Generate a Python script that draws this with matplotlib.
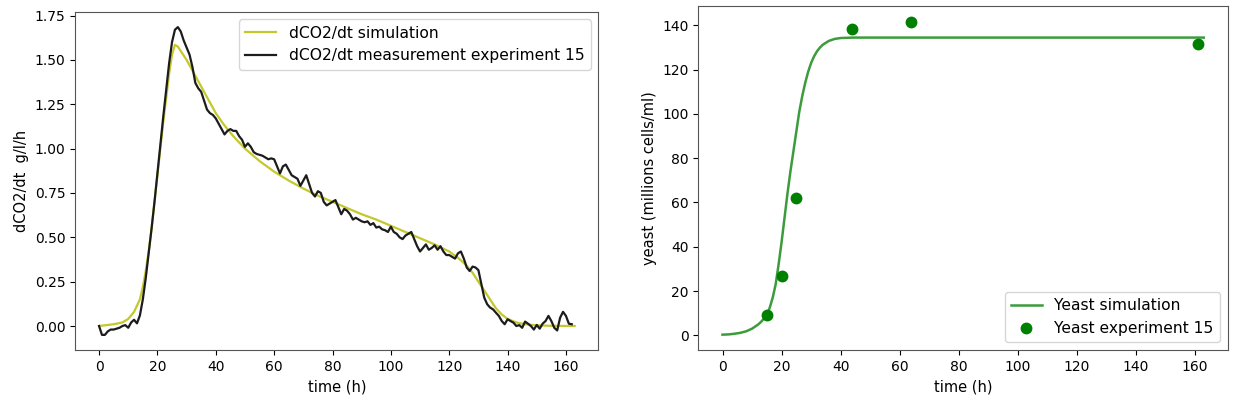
import matplotlib
matplotlib.use("Agg")
import matplotlib.pyplot as plt

# --- left panel: CO2 production rate ---
t_sim = [0, 5, 8, 10, 12, 14, 15, 16, 17, 18, 20, 22, 24, 25, 26, 27, 28, 30,
         32, 34, 36, 38, 40, 43, 46, 50, 55, 60, 65, 70, 75, 80, 85, 90, 95,
         100, 105, 110, 115, 120, 123, 126, 128, 130, 132, 134, 136, 138, 140,
         143, 146, 150, 155, 163]
co2_sim = [0.0, 0.01, 0.02, 0.04, 0.08, 0.15, 0.22, 0.31, 0.42, 0.55, 0.85,
           1.15, 1.42, 1.53, 1.585, 1.575, 1.55, 1.50, 1.44, 1.38, 1.32, 1.26,
           1.20, 1.13, 1.07, 1.00, 0.93, 0.87, 0.82, 0.775, 0.735, 0.70, 0.665,
           0.63, 0.60, 0.565, 0.53, 0.495, 0.46, 0.42, 0.385, 0.34, 0.30, 0.25,
           0.20, 0.15, 0.10, 0.065, 0.04, 0.02, 0.01, 0.004, 0.001, 0.0]

t_meas = list(range(0, 163))
co2_meas = [
    0.00, -0.05, -0.05, -0.03, -0.02, -0.02, -0.015, -0.01, 0.00, 0.005,
    -0.01, 0.02, 0.035, 0.015, 0.06, 0.15, 0.27, 0.41, 0.55, 0.70,
    0.86, 1.02, 1.18, 1.33, 1.48, 1.60, 1.67, 1.685, 1.66, 1.61,
    1.57, 1.53, 1.46, 1.37, 1.34, 1.32, 1.27, 1.22, 1.20, 1.19,
    1.17, 1.14, 1.11, 1.08, 1.10, 1.11, 1.10, 1.10, 1.07, 1.05,
    1.01, 1.03, 1.01, 0.98, 0.97, 0.965, 0.96, 0.95, 0.94, 0.945,
    0.94, 0.90, 0.86, 0.90, 0.91, 0.88, 0.85, 0.84, 0.83, 0.79,
    0.82, 0.85, 0.80, 0.75, 0.73, 0.76, 0.75, 0.70, 0.68, 0.69,
    0.70, 0.71, 0.67, 0.63, 0.66, 0.65, 0.63, 0.60, 0.61, 0.60,
    0.59, 0.585, 0.59, 0.57, 0.58, 0.555, 0.56, 0.545, 0.54, 0.53,
    0.56, 0.53, 0.52, 0.50, 0.49, 0.51, 0.52, 0.53, 0.49, 0.45,
    0.42, 0.44, 0.46, 0.43, 0.44, 0.455, 0.43, 0.45, 0.42, 0.40,
    0.40, 0.39, 0.38, 0.41, 0.42, 0.38, 0.33, 0.31, 0.335, 0.33,
    0.315, 0.236, 0.16, 0.123, 0.104, 0.094, 0.075, 0.057, 0.028, 0.01,
    0.038, 0.028, 0.019, 0.0, 0.005, -0.01, 0.025, 0.013, 0.0, -0.02,
    0.006, -0.015, 0.013, 0.028, 0.057, 0.028, -0.01, -0.025, 0.047, 0.08,
    0.057, 0.013, 0.01,
]

# --- right panel: yeast ---
t_yeast_sim = [0, 2, 4, 6, 8, 10, 12, 13, 14, 15, 16, 17, 18, 19, 20, 21, 22,
               23, 24, 25, 26, 27, 28, 29, 30, 31, 32, 33, 34, 36, 38, 40, 44,
               163]
yeast_sim = [0.3, 0.4, 0.7, 1.1, 1.8, 3.0, 4.8, 6.0, 7.5, 9.2, 12.5, 17, 23,
             32, 42, 53, 64, 74, 83, 92, 101, 108, 114, 119, 123, 126, 128.3,
             130, 131.3, 133, 133.9, 134.3, 134.5, 134.5]

t_yeast_exp = [15, 20, 25, 44, 64, 161]
yeast_exp = [9, 27, 62, 138.5, 141.5, 131.5]

fig = plt.figure(figsize=(12.34, 4.04), dpi=100)
ax1 = fig.add_axes([0.061, 0.133, 0.424, 0.838])
ax2 = fig.add_axes([0.566, 0.133, 0.429, 0.851])

ax1.plot(t_sim, co2_sim, color="#c4c82c", lw=1.6, label="dCO2/dt simulation")
ax1.plot(t_meas, co2_meas, color="#1c1c1c", lw=1.6,
         label="dCO2/dt measurement experiment 15")
ax1.set_xlabel("time (h)", fontsize=10.5)
ax1.set_ylabel("dCO2/dt  g/l/h", fontsize=10.5)
ax1.set_xticks(range(0, 161, 20))
ax1.set_yticks([0, 0.25, 0.5, 0.75, 1.0, 1.25, 1.5, 1.75])
ax1.legend(loc="upper right", fontsize=11.2)

ax2.plot(t_yeast_sim, yeast_sim, color="#3c9c3c", lw=1.8, label="Yeast simulation")
ax2.plot(t_yeast_exp, yeast_exp, "o", color="green", ms=7.5,
         label="Yeast experiment 15")
ax2.set_xlabel("time (h)", fontsize=10.5)
ax2.set_ylabel("yeast (millions cells/ml)", fontsize=10.5)
ax2.set_xticks(range(0, 161, 20))
ax2.legend(loc="lower right", fontsize=11.2)

for ax in (ax1, ax2):
    for s in ax.spines.values():
        s.set_color("#555555")

fig.savefig("out.png", dpi=100)
